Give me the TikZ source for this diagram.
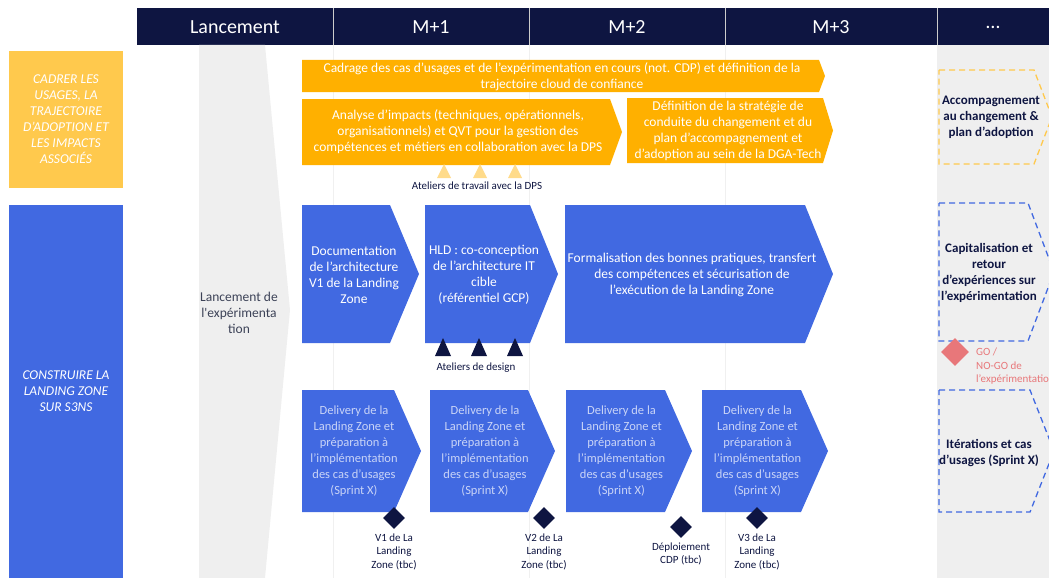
\documentclass[tikz,border=0pt]{standalone}
\usepackage{fontspec}
\setmainfont{Carlito}
\usepackage{xcolor}
\usetikzlibrary{shapes,positioning,calc}

\definecolor{navy}{HTML}{0E1541}
\definecolor{yel}{HTML}{FFB000}
\definecolor{yellab}{HTML}{FFC94D}
\definecolor{blu}{HTML}{4169E1}
\definecolor{lgray}{HTML}{EFEFEF}
\definecolor{ltri}{HTML}{FFDB8A}
\definecolor{pink}{HTML}{E8777A}
\definecolor{fade}{HTML}{C9D4F7}
\definecolor{dgray}{HTML}{3C4257}

\begin{document}
\begin{tikzpicture}[x=1pt,y=-1pt,
  txt/.style={align=center, inner sep=0, font=\fontsize{13.5}{16}\selectfont},
  wtxt/.style={txt, text=white},
  htxt/.style={text=white, inner sep=0, font=\fontsize{20}{22}\selectfont},
  ntxt/.style={align=center, inner sep=0, text=navy, font=\fontsize{11}{13.5}\selectfont},
  btxt/.style={align=center, inner sep=0, text=navy, font=\fontsize{13}{16}\selectfont\bfseries},
  lab/.style={minimum width=114pt, inner sep=0, align=center, text=white, font=\fontsize{13.5}{16}\selectfont\itshape},
  ms/.style={diamond, fill=navy, minimum size=22pt, inner sep=0},
  dbox/.style={dash pattern=on 6pt off 4pt, line width=1.3pt}]
    \useasboundingbox (0,0) rectangle (1049,578);
    \clip (0,0) rectangle (1049,578);
    % header
    \fill[navy] (137,8) rectangle (1049,45);
    \foreach \x in {333,529,725,937}{\draw[gray!40, line width=0.8pt] (\x,8) -- (\x,45);}
    \foreach \x/\name/\lbl in {235/lanc/Lancement, 431/m1/M+1, 627/m2/M+2, 831/m3/M+3, 993/etc/\dots}{\node[htxt] (h\name) at (\x,27) {\lbl};}
    % backgrounds
    \fill[lgray] (199,45) -- (265,45) -- (290,310) -- (265,578) -- (199,578) -- cycle;
    \fill[lgray] (937,45) rectangle (1049,578);
    \foreach \x in {333,529,725}{\draw[gray!12] (\x,45) -- (\x,578);}
    \node[txt, text=dgray] (lancexp) at (239,313) {Lancement de\\l\textquotesingle expérimenta\\tion};
    % left labels
    \node[lab, fill=yellab, minimum height=137pt] (cadrer) at (66,119.5) {CADRER LES\\USAGES, LA\\TRAJECTOIRE\\D’ADOPTION ET\\LES IMPACTS\\ASSOCIÉS};
    \node[lab, fill=blu, minimum height=373pt] (construire) at (66,391.5) {CONSTRUIRE LA\\LANDING ZONE\\SUR S3NS};
    % yellow row
    \fill[yel] (302,60) -- (819,60) -- (825,76) -- (819,92) -- (302,92) -- cycle;
    \node[wtxt] (cadrage) at (562,77) {Cadrage des cas d’usages et de l’expérimentation en cours (not. CDP) et définition de la\\trajectoire cloud de confiance};
    \fill[yel] (302,99) -- (610,99) -- (622,132) -- (610,165) -- (302,165) -- cycle;
    \node[wtxt] (analyse) at (458,132) {Analyse d’impacts (techniques, opérationnels,\\organisationnels) et QVT pour la gestion des\\compétences et métiers en collaboration avec la DPS};
    \fill[yel] (627,98) -- (823,98) -- (833,130.5) -- (823,163) -- (627,163) -- cycle;
    \node[wtxt] (definition) at (728,131) {Définition de la stratégie de\\conduite du changement et du\\plan d’accompagnement et\\d’adoption au sein de la DGA-Tech};
    \foreach \x in {444,480,515}{\fill[ltri] (\x-7,178) -- (\x+7,178) -- (\x,164) -- cycle;}
    \node[ntxt] (atdps) at (477,186) {Ateliers de travail avec la DPS};
    % blue row
    \fill[blu] (302,205) -- (390,205) -- (419,274) -- (390,343) -- (302,343) -- cycle;
    \node[wtxt] (doc) at (354,275) {Documentation\\de l’architecture\\V1 de la Landing\\Zone};
    \fill[blu] (425,205) -- (530,205) -- (558,274) -- (530,343) -- (425,343) -- cycle;
    \node[wtxt] (hld) at (484,275) {HLD : co-conception\\de l’architecture IT\\cible\\(référentiel GCP)};
    \fill[blu] (565,205) -- (805,205) -- (833,274) -- (805,343) -- (565,343) -- cycle;
    \node[wtxt] (formal) at (692,275) {Formalisation des bonnes pratiques, transfert\\des compétences et sécurisation de\\l’exécution de la Landing Zone};
    \foreach \x in {443,479,515}{\fill[navy] (\x-8,356) -- (\x+8,356) -- (\x,338) -- cycle;}
    \node[ntxt] (atdesign) at (476,368) {Ateliers de design};
    % delivery row
    \foreach \i/\l/\r in {1/302/394,2/430/528,3/566/665,4/702/801}{
        \fill[blu] (\l,390) -- (\r,390) -- (\r+27,451) -- (\r,512) -- (\l,512) -- cycle;
        \node[txt, text=fade, font=\fontsize{12.5}{16}\selectfont] (deliv\i) at ({(\l+\r)/2+6},451) {Delivery de la\\Landing Zone et\\préparation à\\l’implémentation\\des cas d’usages\\(Sprint X)};
    }
    \foreach \i/\x/\y in {1/394/518,2/544/518,3/681/527,4/757/518}{\node[ms] (ms\i) at (\x,\y) {};}
    \node[ntxt, below=4pt of ms1] (v1) {V1 de La\\Landing\\Zone (tbc)};
    \node[ntxt, below=4pt of ms2] (v2) {V2 de La\\Landing\\Zone (tbc)};
    \node[ntxt, below=4pt of ms3] (cdp) {Déploiement\\CDP (tbc)};
    \node[ntxt, below=4pt of ms4] (v3) {V3 de La\\Landing\\Zone (tbc)};
    % right column
    \draw[dbox, yellab] (939,70) -- (1034,70) -- (1052,117) -- (1034,164) -- (939,164) -- cycle;
    \node[btxt] (accomp) at (991,117) {Accompagnement\\au changement \&\\plan d’adoption};
    \draw[dbox, blu] (939,203) -- (1028,203) -- (1054,272) -- (1028,341) -- (939,341) -- cycle;
    \node[btxt] (capita) at (989,273) {Capitalisation et\\retour\\d’expériences sur\\l’expérimentation};
    \node[diamond, fill=pink, minimum size=28pt, inner sep=0] (gonogo) at (955,352) {};
    \node[ntxt, text=pink, align=left, anchor=north west] (golbl) at (976,348) {GO /\\NO-GO de\\l’expérimentation};
    \draw[dbox, blu] (939,390) -- (1030,390) -- (1054,451) -- (1030,512) -- (939,512) -- cycle;
    \node[btxt] (iter) at (989,453) {Itérations et cas\\d’usages (Sprint X)};
\end{tikzpicture}
\end{document}
